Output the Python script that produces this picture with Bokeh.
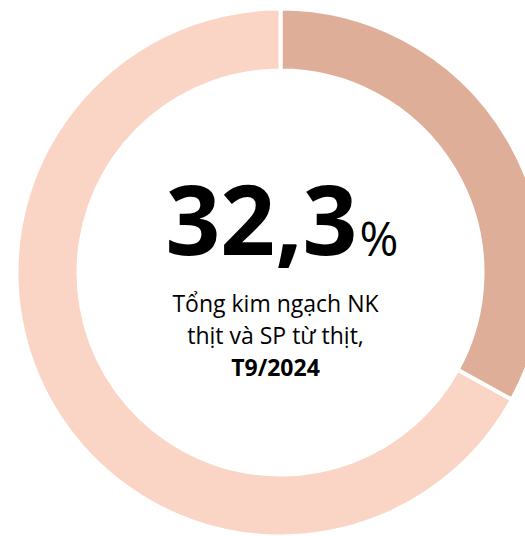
import math
from bokeh.plotting import figure
from bokeh.models import Range1d, ColumnDataSource
from bokeh.core.properties import value
from bokeh.embed import file_html
from bokeh.resources import INLINE

# ---- data ----
categories = ["Thịt và SP từ thịt", "Còn lại"]
shares = [33.0, 67.0]          # slice sizes as drawn
colors = ["#DFAE98", "#FAD5C5"]
big_value = "32,3"
big_unit = "%"
caption_lines = ["Tổng kim ngạch NK", "thịt và SP từ thịt,"]
caption_bold = "T9/2024"

# ---- canvas: data units == screen pixels (y measured downward via H - y) ----
W, H = 525, 536


def sy(y):
    return H - y


cx, cy = 280, sy(272)
r_out, r_in = 264, 202

total = sum(shares)
starts, ends = [], []
acc = 0.0
for s in shares:
    starts.append(math.pi / 2 - 2 * math.pi * (acc + s) / total)
    ends.append(math.pi / 2 - 2 * math.pi * acc / total)
    acc += s

src = ColumnDataSource(dict(cat=categories, val=shares, start=starts, end=ends, color=colors,
                            x=[cx] * len(shares), y=[cy] * len(shares)))

p = figure(width=W, height=H, output_backend="svg", toolbar_location=None,
           x_range=Range1d(0, W), y_range=Range1d(0, H),
           min_border=0, outline_line_color=None)
p.axis.visible = False
p.grid.visible = False
p.background_fill_color = "white"
p.border_fill_color = "white"

p.annular_wedge(x="x", y="y", inner_radius=r_in, outer_radius=r_out,
                start_angle="start", end_angle="end", fill_color="color",
                line_color="white", line_width=4, source=src)

font = value("Open Sans")
tx = 275
# baseline correction: bokeh places 'alphabetic' text ~0.34em lower
big_fs, unit_fs, cap_fs = 96, 47, 23
p.text(x=[357], y=[sy(252 - 0.34 * big_fs)], text=[big_value], text_font=font,
       text_font_size=f"{big_fs}px", text_font_style="bold", text_align="right",
       text_baseline="alphabetic", text_color="black")
p.text(x=[359], y=[sy(253 - 0.34 * unit_fs)], text=[big_unit], text_font=font,
       text_font_size=f"{unit_fs}px", text_align="left", text_baseline="alphabetic",
       text_color="black")
p.text(x=[tx, tx], y=[sy(310 - 0.34 * cap_fs), sy(342 - 0.34 * cap_fs)], text=caption_lines,
       text_font=font, text_font_size=f"{cap_fs}px", text_align="center",
       text_baseline="alphabetic", text_color="black")
p.text(x=[tx], y=[sy(374 - 0.34 * cap_fs)], text=[caption_bold], text_font=font,
       text_font_size=f"{cap_fs}px", text_font_style="bold", text_align="center",
       text_baseline="alphabetic", text_color="black")

open("out.html", "w").write(file_html(p, INLINE))
